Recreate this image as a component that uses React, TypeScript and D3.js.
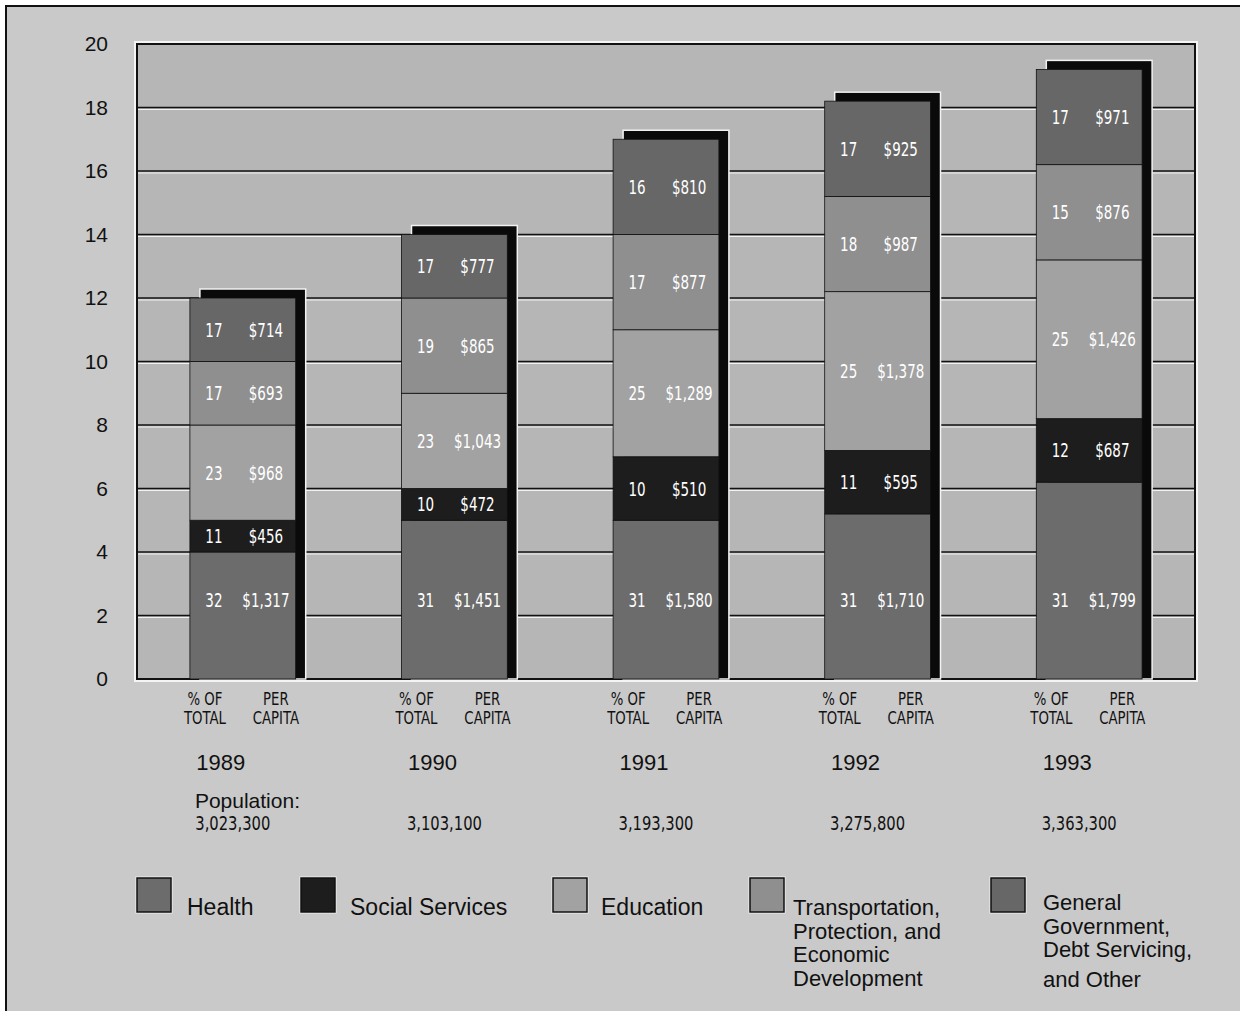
import * as d3 from 'd3';

const years = ['1989', '1990', '1991', '1992', '1993'];
const population = ['3,023,300', '3,103,100', '3,193,300', '3,275,800', '3,363,300'];
const categories = [
  'Health',
  'Social Services',
  'Education',
  'Transportation, Protection, and Economic Development',
  'General Government, Debt Servicing, and Other',
];
const legendLines = [
  ['Health'],
  ['Social Services'],
  ['Education'],
  ['Transportation,', 'Protection, and', 'Economic', 'Development'],
  ['General', 'Government,', 'Debt Servicing,', 'and Other'],
];

// spending, billions
const health = [4, 5, 5, 5.2, 6.2];
const socialServices = [1, 1, 2, 2, 2];
const education = [3, 3, 4, 5, 5];
const transportation = [2, 3, 3, 3, 3];
const generalGov = [2, 2, 3, 3, 3];

// % of total
const pctHealth = [32, 31, 31, 31, 31];
const pctSocial = [11, 10, 10, 11, 12];
const pctEducation = [23, 23, 25, 25, 25];
const pctTransport = [17, 19, 17, 18, 15];
const pctGeneral = [17, 17, 16, 17, 17];

// per capita
const capHealth = ['$1,317', '$1,451', '$1,580', '$1,710', '$1,799'];
const capSocial = ['$456', '$472', '$510', '$595', '$687'];
const capEducation = ['$968', '$1,043', '$1,289', '$1,378', '$1,426'];
const capTransport = ['$693', '$865', '$877', '$987', '$876'];
const capGeneral = ['$714', '$777', '$810', '$925', '$971'];

const yTicks = [0, 2, 4, 6, 8, 10, 12, 14, 16, 18, 20];

const fills = ['#6c6c6c', '#1d1d1d', '#a2a2a2', '#8f8f8f', '#676767'];
const SANS = '"Liberation Sans", Arial, Helvetica, sans-serif';
const NARROW = '"Liberation Sans Narrow", "DejaVu Sans Condensed", "Liberation Sans", sans-serif';

const W = 1240;
const H = 1011;
const margin = { top: 44, right: 45, bottom: 332, left: 137 };

const Cond = ({ x, y, size, sx, fill = '#111', anchor = 'middle', children }: any) => (
  <text
    transform={`translate(${x},${y}) scale(${sx},1)`}
    fontSize={size}
    fontFamily={NARROW}
    textAnchor={anchor}
    fill={fill}
  >
    {children}
  </text>
);

export default function App() {
  const x0 = margin.left;
  const x1 = W - margin.right;
  const y0 = margin.top;
  const yBase = H - margin.bottom;

  const xScale = d3.scaleBand().domain(years).range([x0, x1]).paddingInner(0.5).paddingOuter(0.25);
  const yScale = d3.scaleLinear().domain([0, 20]).range([yBase, y0]);
  const bw = xScale.bandwidth();

  const table = years.map((yr, i) => ({
    year: yr,
    c0: health[i],
    c1: socialServices[i],
    c2: education[i],
    c3: transportation[i],
    c4: generalGov[i],
  }));
  const series = d3.stack<any>().keys(['c0', 'c1', 'c2', 'c3', 'c4'])(table);
  const pcts = [pctHealth, pctSocial, pctEducation, pctTransport, pctGeneral];
  const caps = [capHealth, capSocial, capEducation, capTransport, capGeneral];
  const totals = table.map((d) => d.c0 + d.c1 + d.c2 + d.c3 + d.c4);

  const shadowDx = 10;
  const shadowDy = -9;

  const legendX = [137, 301, 553, 750, 991];
  const legendTextX = [187, 350, 601, 793, 1043];

  return (
    <div style={{ position: 'absolute', left: 0, top: 0 }}>
      <svg width={W} height={H} style={{ display: 'block', background: '#ffffff' }}>
        {/* outer panel */}
        <rect x={6} y={6} width={W - 6} height={H - 6} fill="#c9c9c9" />
        <path d={`M6,${H} V6 H${W}`} fill="none" stroke="#111" strokeWidth={2} />

        {/* plot area */}
        <rect x={x0 - 2} y={y0 - 2} width={x1 - x0 + 4} height={yBase - y0 + 4} fill="none" stroke="#f4f4f4" strokeWidth={2} />
        <rect x={x0} y={y0} width={x1 - x0} height={yBase - y0} fill="#b6b6b6" />
        {yTicks.slice(1, -1).map((t) => (
          <g key={t}>
            <line x1={x0} x2={x1} y1={yScale(t)} y2={yScale(t)} stroke="#111" strokeWidth={1.6} />
            <line x1={x0} x2={x1} y1={yScale(t) + 2} y2={yScale(t) + 2} stroke="#f2f2f2" strokeWidth={1.2} />
          </g>
        ))}
        <rect x={x0} y={y0} width={x1 - x0} height={yBase - y0} fill="none" stroke="#111" strokeWidth={2} />

        {/* y tick labels */}
        {yTicks.map((t) => (
          <text key={t} x={108} y={yScale(t) + 7} textAnchor="end" fontSize={21} fontFamily={SANS} fill="#111">
            {t}
          </text>
        ))}

        {/* bars */}
        {years.map((yr, i) => {
          const bx = xScale(yr) as number;
          const top = yScale(totals[i]);
          return (
            <g key={yr}>
              <rect
                x={bx + shadowDx}
                y={top + shadowDy}
                width={bw}
                height={yBase - top - shadowDy}
                fill="#0a0a0a"
                stroke="#f2f2f2"
                strokeWidth={1.5}
              />
              {series.map((s, k) => {
                const d = s[i];
                return (
                  <rect
                    key={k}
                    x={bx}
                    y={yScale(d[1])}
                    width={bw}
                    height={yScale(d[0]) - yScale(d[1])}
                    fill={fills[k]}
                    stroke="#111"
                    strokeWidth={0.8}
                  />
                );
              })}
              {series.map((s, k) => {
                const d = s[i];
                const v = k === 0 ? 2.5 : (d[0] + d[1]) / 2;
                const ly = yScale(v) + 7;
                return (
                  <g key={'l' + k}>
                    <Cond x={bx + 24} y={ly} size={20} sx={0.75} fill="#ffffff">
                      {pcts[k][i]}
                    </Cond>
                    <Cond x={bx + 76} y={ly} size={20} sx={0.75} fill="#ffffff">
                      {caps[k][i]}
                    </Cond>
                  </g>
                );
              })}
            </g>
          );
        })}

        {/* category labels under bars */}
        {years.map((yr, i) => {
          const bx = xScale(yr) as number;
          const cx = bx + bw / 2;
          return (
            <g key={'x' + yr}>
              <Cond x={bx + 15} y={705} size={18} sx={0.82}>% OF</Cond>
              <Cond x={bx + 15} y={724} size={18} sx={0.82}>TOTAL</Cond>
              <Cond x={bx + 86} y={705} size={18} sx={0.82}>PER</Cond>
              <Cond x={bx + 86} y={724} size={18} sx={0.82}>CAPITA</Cond>
              <text x={cx - 22} y={770} textAnchor="middle" fontSize={22} fontFamily={SANS} fill="#111">
                {yr}
              </text>
              <Cond x={cx - 10} y={830} size={20} sx={0.82}>{population[i]}</Cond>
            </g>
          );
        })}
        <text x={(xScale(years[0]) as number) + 5} y={808} fontSize={21} fontFamily={SANS} fill="#111">
          Population:
        </text>

        {/* legend */}
        {categories.map((c, k) => {
          const lines = legendLines[k];
          const multi = lines.length > 1;
          const firstBase = k === 4 ? 910 : 915;
          return (
            <g key={c}>
              <rect x={legendX[k] - 1.5} y={876.5} width={37} height={37} fill="#f2f2f2" />
              <rect x={legendX[k]} y={878} width={34} height={34} fill={fills[k]} stroke="#111" strokeWidth={1.5} />
              {lines.map((ln, j) => (
                <text
                  key={j}
                  x={legendTextX[k]}
                  y={firstBase + j * 23.5 + (k === 4 && j === 3 ? 6 : 0)}
                  fontSize={multi ? 22 : 23}
                  fontFamily={SANS}
                  fill="#111"
                >
                  {ln}
                </text>
              ))}
            </g>
          );
        })}
      </svg>
    </div>
  );
}
